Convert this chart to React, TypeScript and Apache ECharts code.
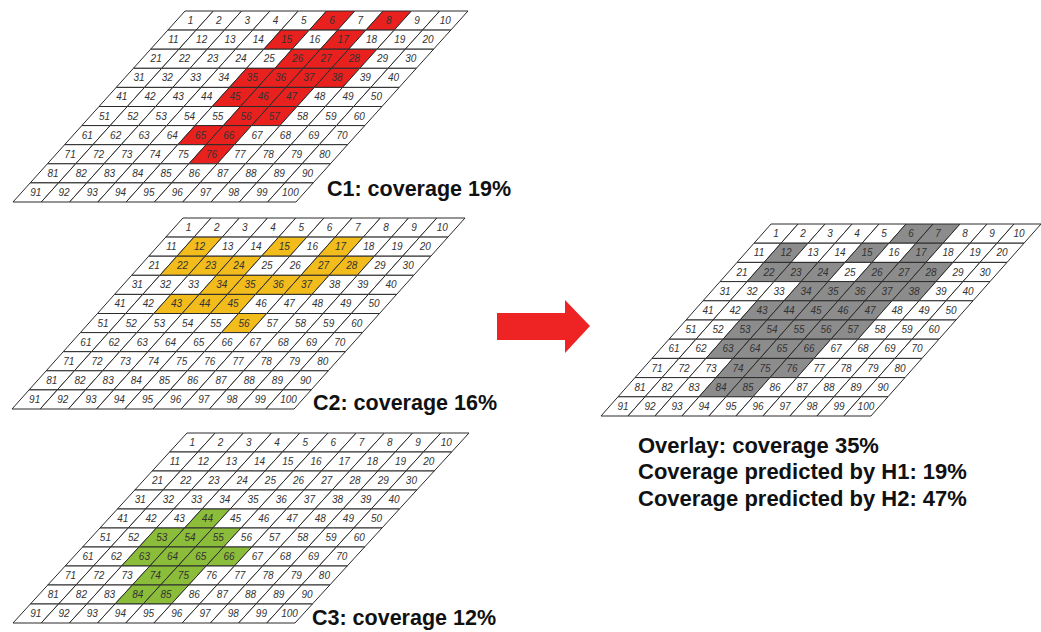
import React, { useEffect, useRef } from "react";
import * as echarts from "echarts";

// Grid structure: 10 x 10 numbered cells (1..100)
const ROWS = 10;
const COLS = 10;

// Highlighted cells in each panel (cell numbers)
const C1_CELLS = [6, 8, 15, 17, 26, 27, 28, 35, 36, 37, 38, 45, 46, 47, 56, 57, 65, 66, 76];
const C2_CELLS = [12, 15, 17, 22, 23, 24, 27, 28, 34, 35, 36, 37, 43, 44, 45, 56];
const C3_CELLS = [44, 53, 54, 55, 63, 64, 65, 66, 74, 75, 84, 85];
const OVERLAY_CELLS = [
  6, 7, 12, 15, 17, 22, 23, 24, 26, 27, 28, 34, 35, 36, 37, 38, 43, 44, 45, 46, 47,
  53, 54, 55, 56, 57, 63, 64, 65, 66, 74, 75, 76, 84, 85,
];

// Texts
const PANEL_LABELS = ["C1: coverage 19%", "C2: coverage 16%", "C3: coverage 12%"];
const OVERLAY_LINES = [
  "Overlay: coverage 35%",
  "Coverage predicted by H1: 19%",
  "Coverage predicted by H2: 47%",
];

// Layout / style (not data)
const PANELS = [
  { cells: C1_CELLS, color: "#e8211f", grid: { left: 13, top: 11, width: 455, height: 191 }, shear: 6.08 },
  { cells: C2_CELLS, color: "#f2bc1c", grid: { left: 12, top: 218, width: 453, height: 191 }, shear: 6.06 },
  { cells: C3_CELLS, color: "#8bbd3a", grid: { left: 13, top: 433, width: 456, height: 190 }, shear: 6.17 },
  { cells: OVERLAY_CELLS, color: "#8c8c8c", grid: { left: 601, top: 224, width: 440, height: 192 }, shear: 6.3 },
];

function buildCellData(highlight: number[]) {
  const out: number[][] = [];
  for (let r = 0; r < ROWS; r++) {
    for (let c = 0; c < COLS; c++) {
      const n = r * COLS + c + 1;
      out.push([c, r, highlight.includes(n) ? 1 : 0, n]);
    }
  }
  return out;
}

export default function App() {
  const ref = useRef<HTMLDivElement>(null);

  useEffect(() => {
    if (!ref.current) return;
    document.body.style.margin = "0";
    const chart = echarts.init(ref.current, null, { renderer: "svg" });

    const grids: any[] = [];
    const xAxes: any[] = [];
    const yAxes: any[] = [];
    const series: any[] = [];

    PANELS.forEach((p, i) => {
      grids.push({ ...p.grid, containLabel: false });
      xAxes.push({ type: "value", gridIndex: i, min: 0, max: COLS + p.shear, show: false });
      yAxes.push({ type: "value", gridIndex: i, min: 0, max: ROWS, inverse: true, show: false });
      const sk = p.shear / ROWS;
      series.push({
        type: "custom",
        coordinateSystem: "cartesian2d",
        xAxisIndex: i,
        yAxisIndex: i,
        clip: false,
        silent: true,
        data: buildCellData(p.cells),
        renderItem: (params: any, api: any) => {
          const c = api.value(0);
          const r = api.value(1);
          const hl = api.value(2);
          const n = api.value(3);
          const tl = api.coord([c + sk * (ROWS - r), r]);
          const tr = api.coord([c + 1 + sk * (ROWS - r), r]);
          const br = api.coord([c + 1 + sk * (ROWS - r - 1), r + 1]);
          const bl = api.coord([c + sk * (ROWS - r - 1), r + 1]);
          const ctr = api.coord([c + 0.5 + sk * (ROWS - r - 0.5), r + 0.5]);
          return {
            type: "group",
            children: [
              {
                type: "polygon",
                shape: { points: [tl, tr, br, bl] },
                style: { fill: hl ? p.color : "#ffffff", stroke: "#2a2a2a", lineWidth: 1 },
              },
              {
                type: "text",
                style: {
                  text: String(n),
                  x: ctr[0],
                  y: ctr[1],
                  align: "center",
                  verticalAlign: "middle",
                  fontStyle: "italic",
                  fontSize: 10,
                  fontFamily: "Liberation Sans, Arial, sans-serif",
                  fill: "#333333",
                },
              },
            ],
          };
        },
      });
    });

    const labelPos = [
      { x: 327, y: 189 },
      { x: 313, y: 403 },
      { x: 312, y: 618 },
    ];

    const graphic: any[] = [
      {
        type: "polygon",
        shape: {
          points: [
            [497, 313],
            [565, 313],
            [565, 300],
            [590, 326],
            [565, 353],
            [565, 340],
            [497, 340],
          ],
        },
        style: { fill: "#ee2424" },
      },
      ...PANEL_LABELS.map((t, i) => ({
        type: "text",
        x: labelPos[i].x,
        y: labelPos[i].y,
        style: {
          text: t,
          fontSize: 21.5,
          fontWeight: "bold",
          fontFamily: "Liberation Sans, Arial, sans-serif",
          fill: "#111111",
          verticalAlign: "middle",
        },
      })),
      ...OVERLAY_LINES.map((t, i) => ({
        type: "text",
        x: 638,
        y: 445 + i * 26.5,
        style: {
          text: t,
          fontSize: 22,
          fontWeight: "bold",
          fontFamily: "Liberation Sans, Arial, sans-serif",
          fill: "#111111",
          verticalAlign: "middle",
        },
      })),
    ];

    chart.setOption({
      animation: false,
      backgroundColor: "#ffffff",
      grid: grids,
      xAxis: xAxes,
      yAxis: yAxes,
      series,
      graphic,
    });

    return () => chart.dispose();
  }, []);

  return (
    <div
      ref={ref}
      style={{ position: "fixed", left: 0, top: 0, width: 1041, height: 632 }}
    />
  );
}
